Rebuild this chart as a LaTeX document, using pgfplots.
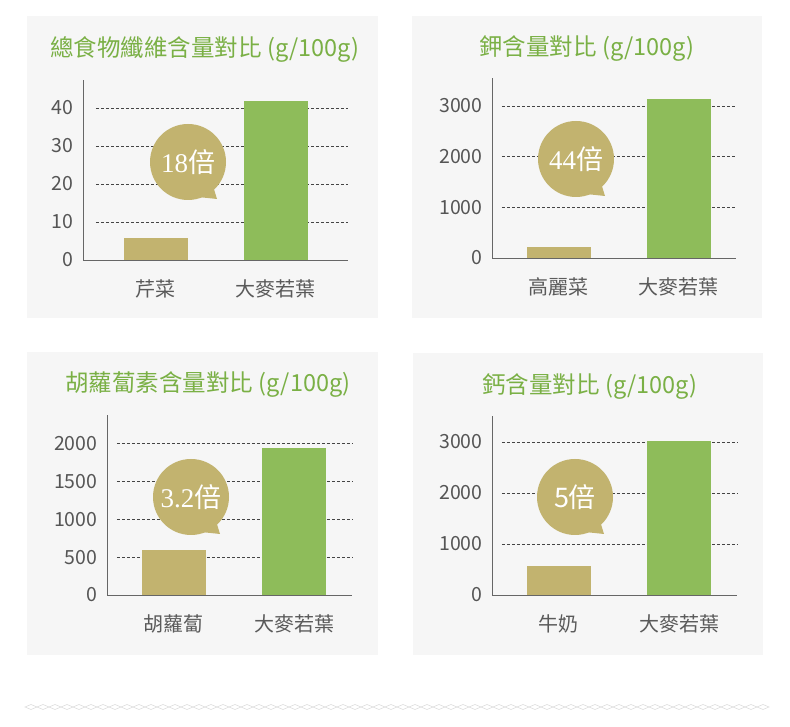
\documentclass[border=0pt]{standalone}
\usepackage{fontspec}
\setmainfont{Noto Sans CJK TC}
\newfontfamily\numserif{Liberation Serif}
\usepackage{pgfplots}
\pgfplotsset{compat=1.18}

\definecolor{panelbg}{HTML}{F6F6F6}
\definecolor{bartan}{HTML}{C2B36F}
\definecolor{bargreen}{HTML}{8EBC5A}
\definecolor{titlegreen}{HTML}{7AB045}
\definecolor{tickgray}{HTML}{555555}
\definecolor{catgray}{HTML}{5A5A5A}
\definecolor{axisgray}{HTML}{666666}
\definecolor{gridgray}{HTML}{444444}
\definecolor{chaingray}{HTML}{DDDDDD}

\tikzset{grid line/.style={gridgray, line width=0.6pt, dash pattern=on 3pt off 2pt}}

\pgfplotsset{
  panel/.style={
    scale only axis, anchor=south west,
    axis x line=bottom, axis y line=left,
    axis line style={-, draw=axisgray, line width=0.9pt},
    major tick length=0pt, xtick={0,1}, ymin=0,
    yticklabel style={font=\fontsize{19.5}{19.5}\selectfont, text=tickgray, xshift=-6pt},
    xticklabel style={font=\fontsize{20}{20}\selectfont, text=catgray, yshift=-16pt},
    /pgf/number format/assume math mode=true,
    /pgf/number format/set thousands separator={},
    clip=false,
  },
  tanbar/.style={ybar, bar width=64pt, bar shift=0pt, fill=bartan, draw=none},
  greenbar/.style={ybar, bar width=64pt, bar shift=0pt, fill=bargreen, draw=none},
}

\newcommand\bubble[3]{%
  \fill[bartan] (#1,#2) circle[radius=38pt];
  \fill[bartan] (#1+10,#2+35) -- (#1+29,#2+37) -- (#1+25,#2+24) -- cycle;
  \node[text=white, font=\fontsize{27}{27}\selectfont] at (#1,#2) {#3};
}

\begin{document}
\begin{tikzpicture}
\useasboundingbox (0,0) rectangle (790pt,727pt);

% panels and titles, in pixel coordinates from the top left
\begin{scope}[x=1pt, y=-1pt, yshift=727pt]
  \fill[panelbg] (27,16) rectangle (378,318);
  \fill[panelbg] (412,16) rectangle (762,318);
  \fill[panelbg] (27,352) rectangle (378,655);
  \fill[panelbg] (413,353) rectangle (763,655);
  \begin{scope}[every node/.style={text=titlegreen, font=\fontsize{23.5}{23.5}\selectfont}]
    \node at (205,49) {總食物纖維含量對比 (g/100g)};
    \node at (587,49) {鉀含量對比 (g/100g)};
    \node at (208,385) {胡蘿蔔素含量對比 (g/100g)};
    \node at (590,387) {鈣含量對比 (g/100g)};
  \end{scope}
\end{scope}

% dietary fibre
\begin{axis}[panel, at={(83pt,467pt)}, width=265pt, height=180pt,
  xmin=-0.608, xmax=1.6, ymax=47.37, ytick={0,10,20,30,40},
  xticklabels={芹菜,大麥若葉}]
  \pgfplotsinvokeforeach{10,20,30,40}{\draw[grid line] (axis cs:-0.5,#1) -- (axis cs:1.6,#1);}
  \addplot[tanbar] coordinates {(0,5.8)};
  \addplot[greenbar] coordinates {(1,41.8)};
\end{axis}

% potassium
\begin{axis}[panel, at={(492pt,469pt)}, width=244pt, height=180pt,
  xmin=-0.558, xmax=1.475, ymax=3550, ytick={0,1000,2000,3000},
  xticklabels={高麗菜,大麥若葉}]
  \pgfplotsinvokeforeach{1000,2000,3000}{\draw[grid line] (axis cs:-0.475,#1) -- (axis cs:1.475,#1);}
  \addplot[tanbar] coordinates {(0,220)};
  \addplot[greenbar] coordinates {(1,3140)};
\end{axis}

% carotene
\begin{axis}[panel, at={(107pt,132pt)}, width=245pt, height=180pt,
  xmin=-0.558, xmax=1.483, ymax=2381, ytick={0,500,1000,1500,2000},
  xticklabels={胡蘿蔔,大麥若葉}]
  \pgfplotsinvokeforeach{500,1000,1500,2000}{\draw[grid line] (axis cs:-0.475,#1) -- (axis cs:1.483,#1);}
  \addplot[tanbar] coordinates {(0,600)};
  \addplot[greenbar] coordinates {(1,1940)};
\end{axis}

% calcium
\begin{axis}[panel, at={(492pt,132pt)}, width=245pt, height=179pt,
  xmin=-0.558, xmax=1.483, ymax=3510, ytick={0,1000,2000,3000},
  xticklabels={牛奶,大麥若葉}]
  \pgfplotsinvokeforeach{1000,2000,3000}{\draw[grid line] (axis cs:-0.475,#1) -- (axis cs:1.483,#1);}
  \addplot[tanbar] coordinates {(0,570)};
  \addplot[greenbar] coordinates {(1,3010)};
\end{axis}

% speech bubbles and the chain rule at the bottom
\begin{scope}[x=1pt, y=-1pt, yshift=727pt]
  \bubble{188}{162}{{\numserif 18}倍}
  \bubble{576}{159}{{\numserif 44}倍}
  \bubble{191}{497}{{\numserif 3.2}倍}
  \bubble{575}{497}{5倍}
  \foreach \i in {0,...,61}
    \draw[chaingray, line width=0.6pt] ({25+12*\i},707) -- ({31+12*\i},704.5) -- ({37+12*\i},707) -- ({31+12*\i},709.5) -- cycle;
\end{scope}
\end{tikzpicture}
\end{document}
